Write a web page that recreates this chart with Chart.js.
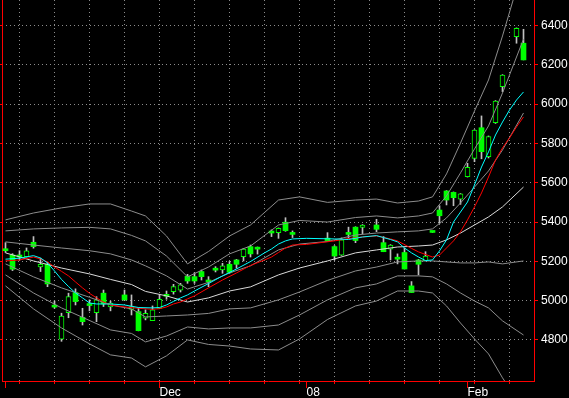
<!DOCTYPE html>
<html>
<head>
<meta charset="utf-8">
<script src="https://cdn.jsdelivr.net/npm/chart.js@4.4.1/dist/chart.umd.min.js"></script>
<style>
html, body { margin: 0; padding: 0; background: #000; }
canvas { display: block; }
</style>
</head>
<body>
<canvas id="chartPrice" width="569" height="398"></canvas>
<script>
// one slot per weekday, 1 Nov 2007 .. 14 Feb 2008
const days = [];
for (let i = 0; i < 76; i++) days.push(i);
const monthIdx = [0, 22, 43, 66];
const monthNames = ['', 'Dec', '08', 'Feb'];
const weekIdx = [2, 7, 12, 17, 22, 27, 32, 37, 42, 47, 52, 57, 62, 67, 72];
const yTicks = [4800, 5000, 5200, 5400, 5600, 5800, 6000, 6200, 6400];

// candles (null = no trading)
const opens = [5263, 5232, 5232, 5224, 5297, 5171, 5185, 4975, 4804, 4939,
  5041, 4915, 4982, 4939, 5038, 4968, null, 5029, 4955, 4944,
  4911, 4898, 4961, 5024, 5046, 5053, 5124, 5122, 5148, 5105,
  5165, 5156, 5185, 5207, 5224, 5275, 5270, null, 5346, 5346,
  5399, 5340, null, null, null, null, 5318, 5275, 5232, 5340,
  5374, 5372, null, 5385, 5295, 5262, 5213, 5245, 5075, 5207,
  5203, 5349, 5461, 5558, 5551, 5516, 5631, 5724, 5880, 5733,
  5906, 6089, null, 6343, 6310];
const highs = [5295, 5239, 5254, 5268, 5326, 5216, 5196, 4998, 4936, 5038,
  5060, 4961, 5004, 5020, 5054, 4998, null, 5054, 5029, 4963,
  4953, 4973, 5029, 5049, 5083, 5088, 5134, 5141, 5156, 5122,
  5173, 5190, 5199, 5210, 5266, 5283, 5273, null, 5360, 5370,
  5422, 5355, null, null, null, null, 5346, 5280, 5319, 5374,
  5376, 5387, null, 5414, 5326, 5285, 5238, 5267, 5097, 5210,
  5249, 5349, 5483, 5560, 5553, 5545, 5699, 5870, 5940, 5838,
  6018, 6150, null, 6388, 6381];
const lows = [5245, 5153, 5207, 5222, 5267, 5148, 5071, 4961, 4793, 4913,
  4978, 4876, 4948, 4893, 4970, 4948, null, 5000, 4927, 4846,
  4902, 4898, 4961, 5007, 5033, 5044, 5088, 5088, 5105, 5071,
  5146, 5139, 5139, 5165, 5202, 5222, 5237, null, 5326, 5317,
  5353, 5321, null, null, null, null, 5302, 5207, 5230, 5318,
  5295, 5341, null, 5351, 5249, 5207, 5187, 5161, 5041, 5131,
  5203, 5347, 5394, 5487, 5483, 5490, 5629, 5707, 5722, 5726,
  5902, 6063, null, 6310, 6225];
const closes = [5254, 5160, 5222, 5253, 5275, 5185, 5085, 4967, 4922, 5020,
  4995, 4893, 4975, 5004, 4983, 4987, null, 5004, 4970, 4847,
  4936, 4953, 5007, 5022, 5071, 5080, 5100, 5100, 5122, 5095,
  5155, 5177, 5144, 5185, 5263, 5238, 5262, null, 5344, 5368,
  5356, 5337, null, null, null, null, 5305, 5227, 5309, 5337,
  5306, 5385, null, 5363, 5249, 5283, 5211, 5161, 5041, 5185,
  5227, 5347, 5432, 5512, 5524, 5543, 5679, 5868, 5758, 5835,
  6016, 6148, null, 6386, 6225];

// bands at these slots
const bandIdx = [0, 4, 8, 12, 15, 18, 20, 23, 26, 29, 32, 35, 39, 42, 46, 50, 53, 56, 59, 61, 63, 65, 67, 69, 71, 74];
const upper3 = [5411, 5446, 5472, 5492, 5492, 5456, 5431, 5329, 5187, 5250, 5329, 5385, 5512, 5528, 5500, 5512, 5517, 5497, 5507, 5528, 5645, 5802, 5965, 6123, 6347, 6708];
const upper2 = [5355, 5365, 5370, 5373, 5365, 5332, 5304, 5227, 5121, 5171, 5238, 5278, 5385, 5408, 5400, 5423, 5431, 5421, 5431, 5446, 5533, 5650, 5772, 5889, 6057, 6331];
const upper1 = [5299, 5283, 5268, 5254, 5238, 5207, 5177, 5126, 5059, 5093, 5141, 5177, 5258, 5288, 5301, 5334, 5344, 5350, 5355, 5365, 5421, 5497, 5578, 5660, 5767, 5955];
const middle = [5243, 5202, 5166, 5136, 5108, 5082, 5047, 5024, 4993, 5014, 5049, 5070, 5131, 5166, 5202, 5243, 5258, 5273, 5278, 5283, 5309, 5344, 5385, 5426, 5477, 5578];
const lower1 = [5187, 5121, 5065, 5017, 4978, 4958, 4917, 4922, 4927, 4935, 4958, 4963, 5004, 5044, 5103, 5151, 5171, 5197, 5202, 5202, 5197, 5192, 5192, 5197, 5187, 5202];
const lower2 = [5131, 5039, 4963, 4899, 4851, 4833, 4790, 4820, 4866, 4856, 4861, 4861, 4876, 4927, 5004, 5065, 5085, 5126, 5126, 5121, 5085, 5039, 4998, 4963, 4897, 4825];
const lower3 = [5075, 4958, 4861, 4780, 4724, 4708, 4663, 4719, 4800, 4777, 4769, 4754, 4749, 4805, 4904, 4973, 4998, 5049, 5049, 5039, 4973, 4886, 4805, 4729, 4607, 4449];

// moving averages
const fastIdx = [0, 2, 4, 5, 6, 7, 8, 9, 10, 11, 12, 13, 15, 17, 19, 21, 22, 23, 24, 25,
  26, 27, 29, 31, 33, 35, 37, 38, 39, 40, 41, 43, 47, 49, 51, 53, 55, 56, 57, 58,
  59, 60, 61, 62, 63, 64, 65, 66, 67, 68, 69, 70, 71, 72, 73, 74];
const fastAvg = [5211, 5216, 5229, 5217, 5192, 5151, 5108, 5072, 5039, 5014, 4988, 4983, 4983, 4978, 4965, 4963, 4965, 4978, 4996, 5014,
  5029, 5049, 5087, 5126, 5161, 5199, 5243, 5263, 5288, 5304, 5314, 5317, 5314, 5311, 5324, 5331, 5311, 5299, 5268, 5243,
  5222, 5204, 5207, 5253, 5309, 5400, 5451, 5502, 5589, 5680, 5757, 5843, 5909, 5970, 6021, 6062];
const slowIdx = [0, 2, 4, 5, 6, 7, 8, 9, 10, 11, 12, 13, 14, 15, 17, 19, 21, 22, 23, 24,
  25, 26, 27, 29, 31, 33, 35, 37, 38, 39, 40, 41, 43, 47, 49, 51, 53, 55, 56, 58,
  59, 61, 62, 63, 64, 65, 66, 67, 68, 69, 70, 71, 72, 73, 74];
const slowAvg = [5202, 5207, 5222, 5212, 5197, 5171, 5149, 5126, 5095, 5065, 5037, 5014, 4993, 4978, 4968, 4961, 4956, 4959, 4968, 4983,
  4993, 5009, 5024, 5065, 5105, 5141, 5179, 5207, 5222, 5245, 5268, 5283, 5286, 5304, 5316, 5324, 5329, 5314, 5304, 5266,
  5248, 5222, 5232, 5268, 5304, 5350, 5411, 5477, 5548, 5629, 5716, 5777, 5828, 5884, 5935];

const green = '#00ff00';
const gridColor = '#8c8c8c';
const bandGray = '#8c8c8c';
const axisRed = '#ff0000';
const font = { family: 'Liberation Sans', size: 12 };

function pts(idx, vals) {
  return idx.map((x, k) => ({ x: x, y: vals[k] }));
}
function line(idx, vals, color, order) {
  return { type: 'line', data: pts(idx, vals), borderColor: color, borderWidth: 1,
    pointRadius: 0, tension: 0, spanGaps: true, fill: false, order: order };
}

const monthTicks = {
  id: 'monthTicks',
  afterDraw(chart) {
    const ctx = chart.ctx, x = chart.scales.x, b = chart.chartArea.bottom;
    ctx.save();
    ctx.strokeStyle = axisRed;
    ctx.lineWidth = 1;
    monthIdx.forEach(i => {
      const px = Math.floor(x.getPixelForValue(i)) + 0.5;
      ctx.beginPath();
      ctx.moveTo(px, b);
      ctx.lineTo(px, b + 7);
      ctx.stroke();
    });
    ctx.restore();
  }
};

var ctxPrice = document.getElementById('chartPrice').getContext('2d');
var chartPrice = new Chart(ctxPrice, {
  type: 'bar',
  data: {
    labels: days,
    datasets: [
      line(fastIdx, fastAvg, '#00ffff', 0),
      line(slowIdx, slowAvg, '#ff0000', 0),
      line(bandIdx, upper3, bandGray, 1),
      line(bandIdx, upper2, bandGray, 1),
      line(bandIdx, upper1, bandGray, 1),
      line(bandIdx, middle, '#d8d8d8', 1),
      line(bandIdx, lower1, bandGray, 1),
      line(bandIdx, lower2, bandGray, 1),
      line(bandIdx, lower3, bandGray, 1),
      {
        data: opens.map((o, i) => o == null ? null : [o, closes[i]]),
        backgroundColor: c => closes[c.dataIndex] >= opens[c.dataIndex] ? '#000000' : green,
        borderColor: green,
        borderWidth: c => closes[c.dataIndex] >= opens[c.dataIndex] ? 1 : 0,
        borderSkipped: false,
        barThickness: 5,
        minBarLength: 2,
        grouped: false,
        order: 3
      },
      {
        data: lows.map((l, i) => l == null ? null : [l, highs[i]]),
        backgroundColor: '#c0c0c0',
        borderWidth: 0,
        barThickness: 1,
        grouped: false,
        order: 4
      }
    ]
  },
  options: {
    responsive: false,
    animation: false,
    devicePixelRatio: 1,
    layout: { padding: 0 },
    plugins: { legend: { display: false }, tooltip: { enabled: false } },
    scales: {
      x: {
        type: 'category',
        offset: true,
        grid: {
          offset: false,
          color: c => weekIdx.includes(c.index) ? gridColor : 'transparent',
          tickColor: c => weekIdx.includes(c.index) ? axisRed : 'transparent',
          tickLength: 3,
          lineWidth: 1
        },
        border: { color: axisRed, width: 1, dash: [1, 3] },
        ticks: {
          autoSkip: false, maxRotation: 0, minRotation: 0, align: 'start',
          padding: 1, color: '#ffffff', font: font,
          callback: function (v, i) {
            const k = monthIdx.indexOf(i);
            return k >= 0 ? monthNames[k] : '';
          }
        },
        afterFit: s => { s.height = 17; s.paddingLeft = 0; s.paddingRight = 0; }
      },
      y: {
        position: 'right',
        min: 4591, max: 6530,
        afterBuildTicks: s => { s.ticks = yTicks.map(v => ({ value: v })); },
        grid: { color: gridColor, tickColor: axisRed, tickLength: 4, lineWidth: 1 },
        border: { color: axisRed, width: 1, dash: [1, 3] },
        ticks: { color: '#ffffff', padding: 3, font: font, callback: v => String(v) },
        afterFit: s => { s.width = 35; s.paddingTop = 0; s.paddingBottom = 0; }
      },
      yLeft: {
        position: 'left',
        min: 4591, max: 6530,
        afterBuildTicks: s => { s.ticks = yTicks.map(v => ({ value: v })); },
        grid: { drawOnChartArea: false, tickColor: axisRed, tickLength: 2 },
        border: { color: axisRed, width: 1 },
        ticks: { display: false },
        afterFit: s => { s.width = 2; s.paddingTop = 0; s.paddingBottom = 0; }
      }
    }
  },
  plugins: [monthTicks]
});
</script>
</body>
</html>
